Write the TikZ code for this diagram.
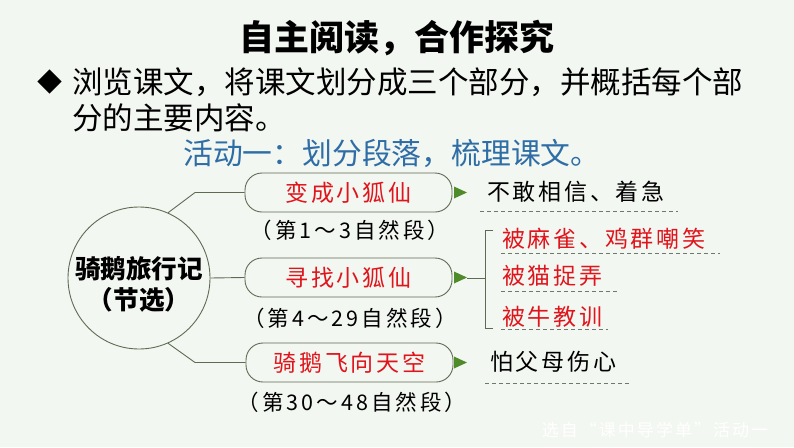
\documentclass[tikz,border=0pt]{standalone}
\usepackage{fontspec}
\setmainfont{Noto Sans CJK SC}
\newfontfamily\cjksp[LetterSpace=12]{Noto Sans CJK SC}
\newfontfamily\cjkspb[LetterSpace=14]{Noto Sans CJK SC}
\definecolor{bgc}{HTML}{F3F7F1}
\definecolor{linec}{HTML}{5E6B52}
\definecolor{redc}{HTML}{E0141C}
\definecolor{bluec}{HTML}{2E6DA6}
\definecolor{triC}{HTML}{4F8A2B}
\definecolor{dashc}{HTML}{6E786C}
\begin{document}
\begin{tikzpicture}[x=1pt,y=-1pt,
  txt/.style={inner sep=0pt},
  bodytext/.style={txt,font=\fontsize{30.5}{34}\selectfont},
  box/.style={draw=linec,line width=0.9pt,rounded corners=17pt,minimum width=207pt,minimum height=39pt,inner sep=0pt,text=redc,font=\cjksp\fontsize{23}{26}\selectfont},
  lab/.style={txt,font=\cjkspb\fontsize{21.5}{24}\selectfont},
  rtxt/.style={txt,anchor=west,font=\cjksp\fontsize{23}{26}\selectfont},
  conn/.style={draw=linec,line width=0.9pt},
  dline/.style={draw=dashc,line width=1pt,dash pattern=on 4pt off 3pt},
  tri/.style={fill=triC}]
\fill[bgc] (0,0) rectangle (794,447);
\useasboundingbox (0,0) rectangle (794,447);

\node[txt,font=\bfseries\fontsize{35}{40}\selectfont] (title) at (397,38) {自主阅读，合作探究};
\node[txt,anchor=west,font=\fontsize{25}{28}\selectfont] (bul) at (37,82) {◆};
\node[bodytext,anchor=west] (l1) at (72,82) {浏览课文，将课文划分成三个部分，并概括每个部};
\node[bodytext,anchor=west] (l2) at (72,118) {分的主要内容。};
\node[txt,anchor=west,text=bluec,font=\fontsize{29.8}{33}\selectfont] (act) at (183,153) {活动一：划分段落，梳理课文。};

% root circle
\node[draw=linec,line width=0.9pt,circle,minimum size=142pt,inner sep=0pt] (root) at (139,278) {};
\node[txt,font=\bfseries\fontsize{25.6}{28}\selectfont] (rt1) at (139,269) {骑鹅旅行记};
\node[txt,font=\bfseries\fontsize{25.6}{28}\selectfont] (rt2) at (139,300) {（节选）};

% boxes
\node[box] (b1) at (348.5,192.5) {变成小狐仙};
\node[box] (b2) at (348.5,277.5) {寻找小狐仙};
\node[box] (b3) at (349.5,362.5) {骑鹅飞向天空};

\node[lab] (lb1) at (350,230) {（第1～3自然段）};
\node[lab] (lb2) at (350,318) {（第4～29自然段）};
\node[lab] (lb3) at (352,402) {（第30～48自然段）};

% connectors from root
\coordinate (k1) at (195,192.5);
\coordinate (k3) at (195,362.5);
\draw[conn] (root.66) -- (k1) -- (b1.west);
\draw[conn] (root.east) -- (b2.west);
\draw[conn] (root.-66) -- (k3) -- (b3.west);

% triangles
\fill[tri] (454,186.5) -- (467,192.5) -- (454,198.5) -- cycle;
\fill[tri] (454,271.5) -- (467,277.5) -- (454,283.5) -- cycle;
\fill[tri] (454,356.5) -- (467,362.5) -- (454,368.5) -- cycle;

% bracket
\coordinate (bm0) at (467,278);
\coordinate (bm1) at (485,278);
\coordinate (bt0) at (493,230);
\coordinate (bt1) at (485,230);
\coordinate (bb1) at (485,328);
\coordinate (bb0) at (493,328);
\draw[conn] (bm0) -- (bm1);
\draw[conn] (bt0) -- (bt1) -- (bb1) -- (bb0);

% right texts
\node[rtxt] (r0) at (487,192) {不敢相信、着急};
\node[rtxt,text=redc] (r1) at (502,239) {被麻雀、鸡群嘲笑};
\node[rtxt,text=redc] (r2) at (502,276) {被猫捉弄};
\node[rtxt,text=redc] (r3) at (502,317) {被牛教训};
\node[rtxt] (r4) at (490,362) {怕父母伤心};

\coordinate (d0a) at (480,211); \coordinate (d0b) at (678,211);
\coordinate (d1a) at (501,253); \coordinate (d1b) at (720,253);
\coordinate (d2a) at (501,291); \coordinate (d2b) at (618,291);
\coordinate (d3a) at (501,329); \coordinate (d3b) at (608,329);
\coordinate (d4a) at (485,383); \coordinate (d4b) at (630,383);
\draw[dline] (d0a) -- (d0b);
\draw[dline] (d1a) -- (d1b);
\draw[dline] (d2a) -- (d2b);
\draw[dline] (d3a) -- (d3b);
\draw[dline] (d4a) -- (d4b);

\node[txt,text=white,font=\cjksp\fontsize{17}{20}\selectfont] (wm) at (655,430) {选自“课中导学单”活动一};
\end{tikzpicture}
\end{document}
